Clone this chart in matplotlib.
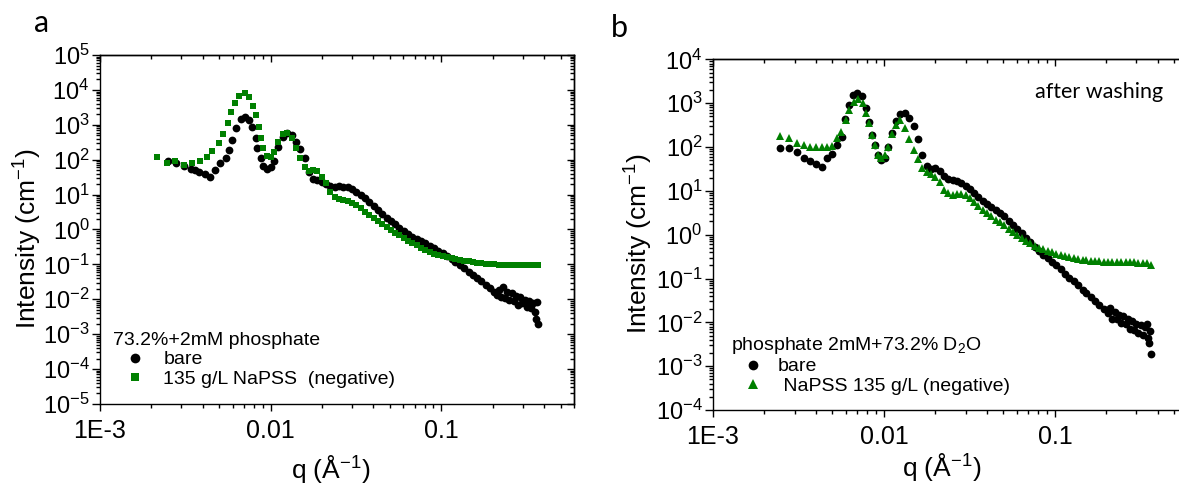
"""
SANS curves: bare vs NaPSS, before (a) and after washing (b).
"""

import numpy as np
import matplotlib
matplotlib.use('Agg')
import matplotlib.pyplot as plt
from matplotlib.ticker import LogLocator, FixedLocator, FixedFormatter, FuncFormatter, NullFormatter

plt.rcParams['font.family'] = 'Liberation Sans'
plt.rcParams['mathtext.default'] = 'regular'
plt.rcParams['axes.linewidth'] = 1.0

# ---------------- data ----------------
# shared mid-q grid (both series, both panels)
q_grid = [0.0105, 0.0111, 0.0118, 0.0125, 0.0133, 0.0141, 0.0149, 0.0158, 0.0168, 0.0178,
          0.0188, 0.0200, 0.0212, 0.0224, 0.0238, 0.0252, 0.0267, 0.0283, 0.0300, 0.0318,
          0.0337, 0.0357, 0.0379, 0.0401, 0.0425, 0.0451, 0.0478, 0.0507, 0.0537, 0.0569,
          0.0604, 0.0640, 0.0678, 0.0719, 0.0762, 0.0808, 0.0856, 0.0908, 0.0962, 0.102,
          0.108, 0.115, 0.121, 0.129, 0.136, 0.145, 0.153, 0.162, 0.172, 0.182,
          0.193]
q_tail_bare = [0.205, 0.211, 0.217, 0.224, 0.230, 0.237, 0.244, 0.251, 0.259, 0.266, 0.274, 0.282,
               0.291, 0.299, 0.308, 0.317, 0.327, 0.336, 0.346, 0.352, 0.357, 0.362, 0.367]
q_tail_napss = [0.205, 0.217, 0.230, 0.244, 0.259, 0.274, 0.291, 0.308, 0.327, 0.346, 0.367]

# panel a
q_lo_bare_a = [0.00252, 0.0028, 0.00309, 0.0034, 0.0036, 0.0038, 0.0041, 0.0044, 0.00469, 0.00508,
               0.00544, 0.00569, 0.00595, 0.00623, 0.00667, 0.00706, 0.00745, 0.0078, 0.00816, 0.00835,
               0.00874, 0.00906, 0.00947, 0.0100]
I_lo_bare_a = [92, 82, 66, 53, 50, 44, 38, 33, 50, 79,
               110, 190, 365, 790, 1435, 1700, 1380, 880, 410, 212,
               110, 66, 53, 61]
I_grid_bare_a = [90, 230, 450, 580, 520, 330, 200, 110, 45, 28,
                 26, 23, 20, 17.5, 17, 17.5, 17, 16, 14.5, 12,
                 9.8, 7.8, 6.0, 4.6, 3.6, 2.8, 2.2, 1.75, 1.4, 1.12,
                 0.9, 0.75, 0.62, 0.53, 0.46, 0.4, 0.34, 0.29, 0.25, 0.21,
                 0.175, 0.145, 0.12, 0.095, 0.077, 0.062, 0.05, 0.041, 0.033, 0.026,
                 0.021]
I_tail_bare_a = [0.016, 0.013, 0.019, 0.012, 0.022, 0.011, 0.016, 0.0095, 0.015, 0.009, 0.0125, 0.0068,
                 0.012, 0.0078, 0.0095, 0.0062, 0.009, 0.0058, 0.0078, 0.0042, 0.0028, 0.0085, 0.0019]

q_lo_napss_a = [0.00217, 0.00247, 0.00276, 0.00309, 0.00346, 0.00387, 0.00424, 0.00454, 0.00497, 0.00527,
                0.00561, 0.00588, 0.00617, 0.00657, 0.00704, 0.00745, 0.00787, 0.00816, 0.00853, 0.00881,
                0.00906, 0.00947, 0.0101]
I_lo_napss_a = [122, 82, 90, 70, 79, 92, 122, 178, 295, 545,
                1100, 2280, 4300, 6680, 7950, 6380, 3470, 1910, 880, 410,
                212, 128, 122]
I_grid_napss_a = [170, 330, 560, 600, 430, 220, 110, 60, 47, 50,
                  48, 33, 21, 12, 8.8, 7.5, 6.9, 6.4, 5.9, 5.0,
                  4.0, 3.2, 2.6, 2.2, 1.8, 1.45, 1.15, 0.97, 0.82, 0.68,
                  0.57, 0.48, 0.41, 0.35, 0.3, 0.26, 0.23, 0.205, 0.19, 0.175,
                  0.163, 0.152, 0.143, 0.135, 0.128, 0.122, 0.117, 0.113, 0.109, 0.106,
                  0.103]
I_tail_napss_a = [0.1, 0.099, 0.097, 0.096, 0.095, 0.095, 0.096, 0.095, 0.097, 0.096, 0.094]

# panel b (after washing)
q_lo_bare_b = [0.00247, 0.0028, 0.0031, 0.00343, 0.00372, 0.00403, 0.00436, 0.00467, 0.00499, 0.00534,
               0.00566, 0.00596, 0.00625, 0.00663, 0.0070, 0.0074, 0.00783, 0.0082, 0.00856, 0.00885,
               0.00918, 0.0096, 0.0101]
I_lo_bare_b = [93, 93, 78, 55, 48, 41, 35, 57, 71, 110,
               171, 445, 905, 1530, 1670, 1440, 760, 376, 186, 110,
               65, 50, 55]
I_grid_bare_b = [100, 210, 400, 580, 590, 460, 300, 150, 65, 36,
                 32, 33, 28, 22, 19, 17.5, 16.5, 15, 13, 11,
                 9.0, 7.2, 5.9, 5.0, 4.3, 3.7, 3.15, 2.6, 2.1, 1.7,
                 1.35, 1.08, 0.86, 0.68, 0.53, 0.43, 0.35, 0.29, 0.24, 0.2,
                 0.165, 0.13, 0.105, 0.086, 0.07, 0.056, 0.046, 0.038, 0.031, 0.025,
                 0.02]
I_tail_bare_b = [0.016, 0.021, 0.012, 0.017, 0.012, 0.015, 0.0095, 0.014, 0.009, 0.012, 0.0072, 0.011,
                 0.0068, 0.0092, 0.0058, 0.0088, 0.0052, 0.0078, 0.0092, 0.0045, 0.0033, 0.0062, 0.0019]

q_lo_napss_b = [0.00247, 0.0028, 0.0031, 0.00343, 0.00372, 0.00403, 0.00436, 0.00467, 0.00499, 0.0053,
                0.0056, 0.006, 0.00625, 0.0067, 0.0071, 0.0075, 0.00783, 0.0082, 0.00856, 0.00885,
                0.0092, 0.0096, 0.0102]
I_lo_napss_b = [177, 157, 121, 111, 100, 100, 100, 100, 105, 157,
                225, 410, 690, 1075, 1240, 990, 585, 345, 186, 110,
                65, 55, 65]
I_grid_napss_b = [100, 200, 320, 410, 270, 150, 85, 52, 33, 27,
                  24, 21, 16, 10.5, 8.7, 8.2, 8.3, 8.3, 8.0, 7.0,
                  5.7, 4.5, 3.7, 3.1, 2.6, 2.2, 1.9, 1.62, 1.38, 1.15,
                  0.98, 0.84, 0.72, 0.63, 0.56, 0.5, 0.46, 0.42, 0.40, 0.37,
                  0.34, 0.32, 0.31, 0.29, 0.28, 0.27, 0.26, 0.255, 0.25, 0.245,
                  0.24]
I_tail_napss_b = [0.24, 0.238, 0.236, 0.235, 0.235, 0.233, 0.232, 0.23, 0.228, 0.222, 0.2]

xtick_vals = [1e-3, 0.01, 0.1]
xtick_labels = ['1E-3', '0.01', '0.1']

GREEN = '#008000'


def style_axes(ax, ylo_exp, yhi_exp, right=True):
    ax.set_xscale('log')
    ax.set_yscale('log')
    ax.set_xlim(1e-3, 0.6)
    ax.set_ylim(10.0 ** ylo_exp, 10.0 ** yhi_exp)
    yticks = [10.0 ** k for k in range(ylo_exp, yhi_exp + 1)]
    ax.xaxis.set_major_locator(FixedLocator(xtick_vals))
    ax.xaxis.set_major_formatter(FixedFormatter(xtick_labels))
    ax.xaxis.set_minor_locator(LogLocator(base=10, subs=np.arange(2, 10), numticks=50))
    ax.xaxis.set_minor_formatter(NullFormatter())
    ax.yaxis.set_major_locator(FixedLocator(yticks))
    ax.yaxis.set_major_formatter(FuncFormatter(lambda v, p: r'$10^{%d}$' % round(np.log10(v))))
    ax.yaxis.set_minor_locator(LogLocator(base=10, subs=np.arange(2, 10), numticks=50))
    ax.yaxis.set_minor_formatter(NullFormatter())
    ax.tick_params(which='both', direction='out', top=False, right=False, width=1.0)
    ax.tick_params(axis='y', which='major', length=6, pad=1.5, labelsize=17)
    ax.tick_params(axis='x', which='major', length=5, pad=6, labelsize=18)
    ax.tick_params(which='minor', length=3)

    # top / right ticks point inward
    top = ax.secondary_xaxis('top')
    top.xaxis.set_major_locator(FixedLocator(xtick_vals))
    top.xaxis.set_minor_locator(LogLocator(base=10, subs=np.arange(2, 10), numticks=50))
    top.xaxis.set_major_formatter(NullFormatter())
    top.xaxis.set_minor_formatter(NullFormatter())
    top.tick_params(which='both', direction='in', width=1.0)
    top.tick_params(which='major', length=5)
    top.tick_params(which='minor', length=3)
    if right:
        rgt = ax.secondary_yaxis('right')
        rgt.yaxis.set_major_locator(FixedLocator(yticks))
        rgt.yaxis.set_minor_locator(LogLocator(base=10, subs=np.arange(2, 10), numticks=50))
        rgt.yaxis.set_major_formatter(NullFormatter())
        rgt.yaxis.set_minor_formatter(NullFormatter())
        rgt.tick_params(which='both', direction='in', width=1.0)
        rgt.tick_params(which='major', length=5)
        rgt.tick_params(which='minor', length=3)

    ax.set_xlabel(r'q ($\AA^{-1}$)', fontsize=19)
    ax.set_ylabel(r'Intensity (cm$^{-1}$)', fontsize=19)


fig = plt.figure(figsize=(11.79, 4.83), dpi=100)
ax_a = fig.add_axes([0.0848, 0.1636, 0.4021, 0.7225])
ax_b = fig.add_axes([0.6047, 0.1511, 0.4029, 0.7261])

# Panel a
ax_a.plot(q_lo_bare_a + q_grid + q_tail_bare, I_lo_bare_a + I_grid_bare_a + I_tail_bare_a,
          'o', color='black', ms=5.6, mew=0, label='bare')
ax_a.plot(q_lo_napss_a + q_grid + q_tail_napss, I_lo_napss_a + I_grid_napss_a + I_tail_napss_a,
          's', color=GREEN, ms=5.0, mew=0, label='135 g/L NaPSS  (negative)')
style_axes(ax_a, -5, 5)
ax_a.xaxis.set_label_coords(0.487, -0.14)
ax_a.yaxis.set_label_coords(-0.118, 0.475)
ax_a.legend(title='73.2%+2mM phosphate', loc='lower left', bbox_to_anchor=(0.027, 0.046),
            frameon=False, fontsize=14, title_fontsize=14, alignment='left',
            handlelength=2.3, handletextpad=0.3, labelspacing=0.1, borderpad=0,
            borderaxespad=0, numpoints=1, markerscale=1.25)

# Panel b
ax_b.plot(q_lo_bare_b + q_grid + q_tail_bare, I_lo_bare_b + I_grid_bare_b + I_tail_bare_b,
          'o', color='black', ms=5.6, mew=0, label='bare')
ax_b.plot(q_lo_napss_b + q_grid + q_tail_napss, I_lo_napss_b + I_grid_napss_b + I_tail_napss_b,
          '^', color=GREEN, ms=6.0, mew=0, label=' NaPSS 135 g/L (negative)')
style_axes(ax_b, -4, 4, right=False)
ax_b.xaxis.set_label_coords(0.482, -0.118)
ax_b.yaxis.set_label_coords(-0.122, 0.475)
ax_b.legend(title='phosphate 2mM+73.2% D$_2$O', loc='lower left', bbox_to_anchor=(0.038, 0.043),
            frameon=False, fontsize=14, title_fontsize=14, alignment='left',
            handlelength=2.3, handletextpad=0.1, labelspacing=0.1, borderpad=0,
            borderaxespad=0, numpoints=1, markerscale=1.25)

fig.text(1035 / 1179, 1 - 98 / 483, 'after washing', fontsize=15.5, family='Lato', va='baseline')
fig.text(34 / 1179, 1 - 32 / 483, 'a', fontsize=22, family='Lato', va='baseline')
fig.text(611 / 1179, 1 - 37 / 483, 'b', fontsize=22, family='Lato', va='baseline')

fig.savefig('out.png', dpi=100)
plt.close()
